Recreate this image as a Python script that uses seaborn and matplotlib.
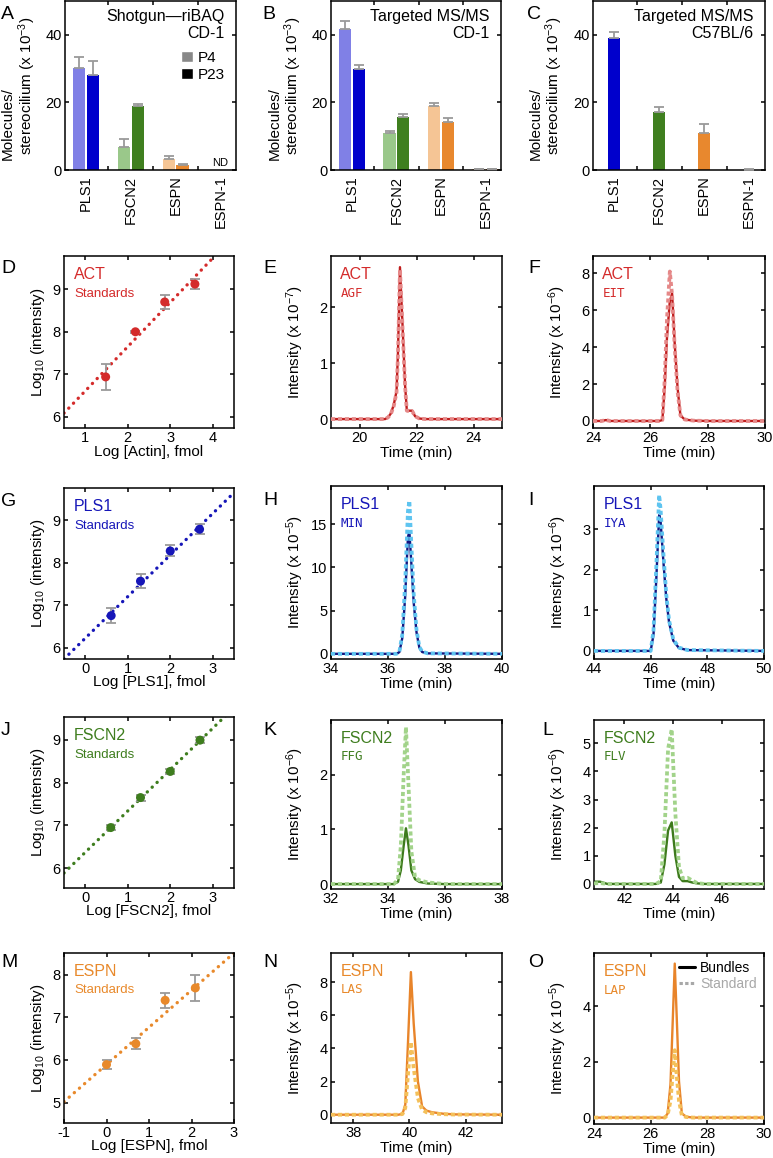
import numpy as np
import pandas as pd
import matplotlib
matplotlib.use("Agg")
import matplotlib.pyplot as plt
import seaborn as sns
from matplotlib.patches import Patch
from matplotlib.lines import Line2D
from matplotlib.ticker import FixedLocator

# ------------------------------------------------------------------ data
proteins = ["PLS1", "FSCN2", "ESPN", "ESPN-1"]
ages = ["P4", "P23"]

# Panel A: shotgun riBAQ, CD-1 (molecules/stereocilium x 1e-3)
a_p4 = [30.3, 6.9, 3.4, 0.0]
a_p4_err = [3.2, 2.2, 0.8, 0.0]
a_p23 = [28.2, 18.9, 1.4, 0.0]
a_p23_err = [4.1, 0.7, 0.4, 0.0]
# Panel B: targeted MS/MS, CD-1
b_p4 = [41.6, 10.8, 18.9, 0.15]
b_p4_err = [2.5, 0.7, 1.0, 0.1]
b_p23 = [30.0, 15.8, 14.3, 0.15]
b_p23_err = [1.2, 0.9, 1.1, 0.1]
# Panel C: targeted MS/MS, C57BL/6
c_p23 = [39.1, 17.1, 10.8, 0.1]
c_p23_err = [1.8, 1.5, 2.7, 0.1]

# Standard curves (log amount, log10 intensity)
act_std_x = [1.48, 2.18, 2.87, 3.58]
act_std_y = [6.94, 8.00, 8.70, 9.12]
act_std_err = [0.30, 0.03, 0.16, 0.12]
act_fit_x = [0.5, 4.0]
act_fit_y = [6.09, 9.73]

pls1_std_x = [0.61, 1.30, 2.00, 2.69]
pls1_std_y = [6.76, 7.57, 8.28, 8.79]
pls1_std_err = [0.17, 0.16, 0.13, 0.12]
pls1_fit_x = [-0.5, 3.5]
pls1_fit_y = [5.74, 9.65]

fscn2_std_x = [0.60, 1.30, 2.00, 2.70]
fscn2_std_y = [6.95, 7.65, 8.26, 8.99]
fscn2_std_err = [0.05, 0.07, 0.06, 0.07]
fscn2_fit_x = [-0.5, 3.5]
fscn2_fit_y = [5.89, 9.75]

espn_std_x = [0.00, 0.69, 1.38, 2.09]
espn_std_y = [5.89, 6.38, 7.40, 7.69]
espn_std_err = [0.11, 0.13, 0.18, 0.30]
espn_fit_x = [-1.0, 3.0]
espn_fit_y = [5.02, 8.51]

# Chromatograms: time (min), bundles, standard (scaled intensities)
e_t = [19.0, 20.9, 21.0, 21.1, 21.2, 21.3, 21.35, 21.42, 21.5, 21.6, 21.66, 21.75, 21.85, 21.95, 22.1, 22.3, 25.0]
e_bund = [0, 0, 0.03, 0.10, 0.25, 0.50, 1.20, 2.72, 1.80, 0.60, 0.16, 0.15, 0.15, 0.05, 0.01, 0, 0]
e_std = [0, 0, 0.03, 0.09, 0.23, 0.48, 1.15, 2.68, 1.75, 0.58, 0.15, 0.14, 0.14, 0.05, 0.01, 0, 0]

f_t = [24.0, 24.3, 24.45, 24.6, 26.3, 26.42, 26.5, 26.58, 26.68, 26.76, 26.85, 26.95, 27.05, 27.2, 27.5, 28.0, 30.0]
f_bund = [0, 0, 0.05, 0, 0, 0.05, 1.8, 4.5, 6.5, 6.9, 4.2, 1.8, 0.3, 0.08, 0.02, 0, 0]
f_std = [0, 0, 0.05, 0, 0, 0.05, 2.2, 5.5, 8.1, 6.8, 4.0, 1.6, 0.3, 0.08, 0.02, 0, 0]

h_t = [34.0, 36.3, 36.4, 36.5, 36.6, 36.7, 36.75, 36.8, 36.9, 37.0, 37.1, 37.2, 37.4, 40.0]
h_bund = [0, 0, 0.2, 1.8, 6.5, 13.5, 14.1, 11.5, 6.0, 2.5, 0.7, 0.2, 0.05, 0]
h_std = [0, 0, 0.25, 2.2, 8.0, 16.5, 17.7, 14.0, 7.0, 2.8, 0.8, 0.25, 0.05, 0]

i_t = [44.0, 46.0, 46.1, 46.2, 46.3, 46.35, 46.45, 46.55, 46.65, 46.8, 47.0, 47.3, 50.0]
i_bund = [0, 0, 0.4, 1.8, 3.35, 3.2, 2.2, 1.3, 0.7, 0.25, 0.07, 0.02, 0]
i_std = [0, 0, 0.5, 2.1, 3.85, 3.5, 2.4, 1.4, 0.75, 0.28, 0.08, 0.02, 0]

k_t = [32.0, 34.2, 34.35, 34.45, 34.55, 34.63, 34.72, 34.82, 34.95, 35.1, 35.4, 36.0, 38.0]
k_bund = [0, 0, 0.04, 0.25, 0.70, 1.02, 0.70, 0.25, 0.09, 0.04, 0.01, 0, 0]
k_std = [0, 0, 0.08, 0.70, 2.00, 2.87, 1.80, 0.60, 0.12, 0.07, 0.03, 0, 0]

l_t = [40.75, 41.0, 41.3, 43.3, 43.5, 43.65, 43.8, 43.95, 44.1, 44.25, 44.4, 44.6, 44.8, 45.0, 45.3, 47.75]
l_bund = [0.08, 0.08, 0.0, 0, 0.05, 0.7, 1.9, 2.19, 1.0, 0.25, 0.1, 0.1, 0.05, 0.02, 0, 0]
l_std = [0.02, 0.03, 0.0, 0, 0.1, 1.8, 4.8, 5.5, 2.5, 0.6, 0.2, 0.22, 0.12, 0.03, 0, 0]

n_t = [37.2, 39.6, 39.75, 39.85, 39.95, 40.05, 40.15, 40.3, 40.45, 40.6, 40.8, 41.2, 41.6, 43.3]
n_bund = [0, 0, 0.05, 0.6, 4.5, 8.6, 5.5, 2.0, 0.5, 0.25, 0.15, 0.06, 0.02, 0]
n_std = [0, 0, 0.04, 0.4, 2.5, 4.38, 2.8, 1.0, 0.3, 0.15, 0.08, 0.03, 0.01, 0]

o_t = [24.0, 26.5, 26.6, 26.7, 26.78, 26.85, 26.92, 27.0, 27.1, 27.25, 27.5, 30.0]
o_bund = [0, 0, 0.15, 1.2, 3.5, 5.53, 3.6, 1.3, 0.15, 0.03, 0, 0]
o_std = [0, 0, 0.1, 0.6, 1.6, 2.42, 1.5, 0.6, 0.08, 0.02, 0, 0]

# ------------------------------------------------------------------ colours
bar_cols = {
    "P4": ["#8080E6", "#9AC88A", "#F5C595", "#F5C595"],
    "P23": ["#0000CC", "#3F7F1F", "#E8882E", "#E8882E"],
}
ERR_C = "#9a9a9a"
ACT_C, ACT_B, ACT_S = "#D42B2B", "#C01C1C", "#E58888"
PLS_C, PLS_B, PLS_S = "#1616B8", "#14147E", "#5EC4F0"
FSC_C, FSC_B, FSC_S = "#3E7D1E", "#3D7A1C", "#A2D38A"
ESP_C, ESP_B, ESP_S = "#E8892B", "#E8842A", "#F4C05A"

# ------------------------------------------------------------------ style
sns.set_theme(style="ticks")
plt.rcParams.update({
    "font.family": ["Liberation Sans", "DejaVu Sans"],
    "mathtext.fontset": "custom",
    "mathtext.rm": "Liberation Sans",
    "mathtext.it": "Liberation Sans:italic",
    "mathtext.bf": "Liberation Sans:bold",
    "axes.linewidth": 1.1,
    "axes.edgecolor": "black",
    "xtick.direction": "in", "ytick.direction": "in",
    "xtick.top": True, "ytick.right": True,
    "xtick.major.size": 3.2, "ytick.major.size": 3.2,
    "xtick.minor.size": 3.2,
    "xtick.major.width": 1.1, "ytick.major.width": 1.1, "xtick.minor.width": 1.1,
    "xtick.labelsize": 10.5, "ytick.labelsize": 10.5,
    "axes.labelsize": 11,
    "xtick.major.pad": 2.5, "ytick.major.pad": 2.5,
    "axes.unicode_minus": False,
    "xtick.color": "black", "ytick.color": "black",
    "text.color": "black", "axes.labelcolor": "black",
})

FW, FH = 773, 1158
fig = plt.figure(figsize=(FW / 100, FH / 100), dpi=100)


def add_ax(l, t, r, b):
    return fig.add_axes([l / FW, 1 - b / FH, (r - l) / FW, (b - t) / FH])


def frame(ax):
    for s in ax.spines.values():
        s.set_visible(True)
        s.set_linewidth(1.1)
        s.set_color("black")
    ax.tick_params(which="both", direction="in", top=True, right=True,
                   labeltop=False, labelright=False)


def letter(ch, x, ybase):
    fig.text(x / FW, 1 - ybase / FH, ch, fontsize=14, va="baseline", ha="left")


# ------------------------------------------------------------------ bar panels
def bar_panel(ax, series, title1, title2):
    rows = []
    for age, (vals, errs) in series.items():
        for p, v, e in zip(proteins, vals, errs):
            rows.append({"protein": p, "age": age, "value": v, "err": e})
    df = pd.DataFrame(rows)
    hue_order = list(series.keys())
    if len(hue_order) == 2:
        sns.barplot(data=df, x="protein", y="value", hue="age", order=proteins,
                    hue_order=hue_order, palette=["#888888", "#000000"],
                    width=0.62, gap=0.12, errorbar=None, legend=False,
                    saturation=1, linewidth=0, ax=ax)
    else:
        sns.barplot(data=df, x="protein", y="value", order=proteins,
                    color="#000000", width=0.27, errorbar=None,
                    saturation=1, linewidth=0, ax=ax)
    for cont, age in zip(ax.containers, hue_order):
        sub = df[df["age"] == age].set_index("protein").loc[proteins]
        for bar, col, (v, e) in zip(cont, bar_cols[age], zip(sub["value"], sub["err"])):
            bar.set_facecolor(col)
            if v > 0:
                xc = bar.get_x() + bar.get_width() / 2
                ax.errorbar([xc], [v], yerr=[[0], [e]], fmt="none", ecolor=ERR_C,
                            elinewidth=1.3, capsize=3.3, capthick=1.3, zorder=3)
    frame(ax)
    ax.set_xlim(-0.47, 3.35)
    ax.set_ylim(0, 50)
    ax.set_yticks([0, 20, 40])
    ax.xaxis.set_minor_locator(FixedLocator([0.5, 1.5, 2.5]))
    ax.tick_params(axis="x", which="major", length=0, pad=4, labelrotation=90,
                   labelsize=10.5)
    ax.set_xlabel("")
    # two-line axis title: second line as the y label, first line as a rotated text
    ax.set_ylabel("stereocilium (x 10$^{-3}$)", fontsize=11)
    ax.yaxis.set_label_coords(-0.16, 0.5)
    ax.text(-0.31, 0.06, "Molecules/", transform=ax.transAxes, rotation=90,
            rotation_mode="anchor", ha="left", va="baseline", fontsize=11)
    ax.text(0.935, 0.88, title1, transform=ax.transAxes, ha="right",
            va="baseline", fontsize=11.5)
    ax.text(0.935, 0.78, title2, transform=ax.transAxes, ha="right",
            va="baseline", fontsize=11.5)


axA = add_ax(65, 1, 236, 170)
bar_panel(axA, {"P4": (a_p4, a_p4_err), "P23": (a_p23, a_p23_err)},
          "Shotgun\u2014riBAQ", "CD-1")
axA.text(3, 2.0, "ND", ha="center", va="center", fontsize=8)
axA.legend([Patch(facecolor="#888888"), Patch(facecolor="#000000")], ages,
           loc="upper left", bbox_to_anchor=(0.68, 0.705), frameon=False,
           handlelength=0.75, handleheight=0.75, handletextpad=0.35,
           labelspacing=0.2, borderpad=0, borderaxespad=0, fontsize=11)

axB = add_ax(331, 1, 501, 170)
bar_panel(axB, {"P4": (b_p4, b_p4_err), "P23": (b_p23, b_p23_err)},
          "Targeted MS/MS", "CD-1")

axC = add_ax(593, 1, 765, 170)
bar_panel(axC, {"P23": (c_p23, c_p23_err)}, "Targeted MS/MS", "C57BL/6")

letter("A", 1, 19)
letter("B", 262, 19)
letter("C", 527, 19)


# ------------------------------------------------------------------ standard curves
def std_panel(ax, x, y, err, fx, fy, color, name, xlabel, xlim, ylim, xticks, yticks):
    sns.lineplot(x=fx, y=fy, ax=ax, color=color, lw=2.4,
                 linestyle=(0, (0.05, 2.0)), dash_capstyle="round",
                 estimator=None, sort=False, zorder=1)
    ax.errorbar(x, y, yerr=err, fmt="none", ecolor=ERR_C, elinewidth=1.3,
                capsize=3.3, capthick=1.3, zorder=2)
    sns.scatterplot(x=x, y=y, ax=ax, color=color, s=42, edgecolor="none",
                    zorder=3, legend=False)
    frame(ax)
    ax.set_xlim(*xlim)
    ax.set_ylim(*ylim)
    ax.set_xticks(xticks)
    ax.set_yticks(yticks)
    ax.set_xlabel(xlabel, fontsize=11)
    ax.set_ylabel("Log$_{10}$ (intensity)", fontsize=11)
    ax.yaxis.set_label_coords(-0.10, 0.5)
    ax.xaxis.label.set_va("baseline")
    ax.xaxis.set_label_coords(0.5, -0.16)
    ax.text(0.06, 0.865, name, transform=ax.transAxes, color=color,
            fontsize=11.5, va="baseline", ha="left")
    ax.text(0.06, 0.762, "Standards", transform=ax.transAxes, color=color,
            fontsize=9.5, va="baseline", ha="left")


def chrom_panel(ax, t, bund, std, cb, cs, ctext, name, pep, xlim, ylim,
                xticks, yticks, exp):
    sns.lineplot(x=t, y=bund, ax=ax, color=cb, lw=1.7, estimator=None,
                 sort=False, zorder=2)
    sns.lineplot(x=t, y=std, ax=ax, color=cs, lw=2.7,
                 linestyle=(0, (1.1, 0.75)), estimator=None, sort=False,
                 zorder=3)
    frame(ax)
    ax.set_xlim(*xlim)
    ax.set_ylim(*ylim)
    ax.set_xticks(xticks)
    ax.set_yticks(yticks)
    ax.set_xlabel("Time (min)", fontsize=11)
    ax.set_ylabel("Intensity (x 10$^{-%d}$)" % exp, fontsize=11)
    ax.yaxis.set_label_coords(-0.145, 0.5)
    ax.xaxis.label.set_va("baseline")
    ax.xaxis.set_label_coords(0.5, -0.17)
    ax.text(0.055, 0.865, name, transform=ax.transAxes, color=ctext,
            fontsize=11.5, va="baseline", ha="left")
    ax.text(0.055, 0.762, pep, transform=ax.transAxes, color=ctext,
            fontsize=9, va="baseline", ha="left", family="DejaVu Sans Mono")


# Row D-F
axD = add_ax(64, 256, 234, 428)
std_panel(axD, act_std_x, act_std_y, act_std_err, act_fit_x, act_fit_y, ACT_C,
          "ACT", "Log [Actin], fmol", (0.5, 4.5), (5.74, 9.78), [1, 2, 3, 4],
          [6, 7, 8, 9])
axE = add_ax(331, 256, 502, 428)
chrom_panel(axE, e_t, e_bund, e_std, ACT_B, ACT_S, ACT_C, "ACT", "AGF",
            (19, 25), (-0.16, 2.92), [20, 22, 24], [0, 1, 2], 7)
axF = add_ax(593, 256, 765, 428)
chrom_panel(axF, f_t, f_bund, f_std, ACT_B, ACT_S, ACT_C, "ACT", "EIT",
            (24, 30), (-0.38, 8.94), [24, 26, 28, 30], [0, 2, 4, 6, 8], 6)
letter("D", 1, 273)
letter("E", 263, 273)
letter("F", 528, 273)

# Row G-I
axG = add_ax(64, 488, 234, 659)
std_panel(axG, pls1_std_x, pls1_std_y, pls1_std_err, pls1_fit_x, pls1_fit_y,
          PLS_C, "PLS1", "Log [PLS1], fmol", (-0.5, 3.5), (5.74, 9.76),
          [0, 1, 2, 3], [6, 7, 8, 9])
axH = add_ax(331, 486, 502, 659)
chrom_panel(axH, h_t, h_bund, h_std, PLS_B, PLS_S, PLS_C, "PLS1", "MIN",
            (34, 40), (-0.6, 19.4), [34, 36, 38, 40], [0, 5, 10, 15], 5)
axI = add_ax(594, 486, 764, 659)
chrom_panel(axI, i_t, i_bund, i_std, PLS_B, PLS_S, PLS_C, "PLS1", "IYA",
            (44, 50), (-0.2, 4.07), [44, 46, 48, 50], [0, 1, 2, 3], 6)
letter("G", 1, 506)
letter("H", 263, 505)
letter("I", 528, 505)

# Row J-L
axJ = add_ax(64, 717, 234, 888)
std_panel(axJ, fscn2_std_x, fscn2_std_y, fscn2_std_err, fscn2_fit_x, fscn2_fit_y,
          FSC_C, "FSCN2", "Log [FSCN2], fmol", (-0.5, 3.5), (5.54, 9.53),
          [0, 1, 2, 3], [6, 7, 8, 9])
axK = add_ax(331, 720, 502, 889)
chrom_panel(axK, k_t, k_bund, k_std, FSC_B, FSC_S, FSC_C, "FSCN2", "FFG",
            (32, 38), (-0.09, 3.0), [32, 34, 36, 38], [0, 1, 2], 6)
axL = add_ax(594, 720, 764, 889)
chrom_panel(axL, l_t, l_bund, l_std, FSC_B, FSC_S, FSC_C, "FSCN2", "FLV",
            (40.75, 47.75), (-0.18, 5.83), [42, 44, 46], [0, 1, 2, 3, 4, 5], 6)
letter("J", 1, 735)
letter("K", 263, 735)
letter("L", 542, 735)

# Row M-O
axM = add_ax(64, 953, 234, 1123)
std_panel(axM, espn_std_x, espn_std_y, espn_std_err, espn_fit_x, espn_fit_y,
          ESP_C, "ESPN", "Log [ESPN], fmol", (-1, 3), (4.52, 8.51),
          [-1, 0, 1, 2, 3], [5, 6, 7, 8])
axN = add_ax(331, 953, 502, 1123)
chrom_panel(axN, n_t, n_bund, n_std, ESP_B, ESP_S, ESP_C, "ESPN", "LAS",
            (37.2, 43.3), (-0.5, 9.75), [38, 40, 42], [0, 2, 4, 6, 8], 5)
axO = add_ax(594, 953, 764, 1124)
chrom_panel(axO, o_t, o_bund, o_std, ESP_B, ESP_S, ESP_C, "ESPN", "LAP",
            (24, 30), (-0.23, 5.91), [24, 26, 28, 30], [0, 2, 4], 5)
axO.legend([Line2D([], [], color="black", lw=2.2),
            Line2D([], [], color="#a8a8a8", lw=2.2, linestyle=(0, (1.1, 0.75)))],
           ["Bundles", "Standard"], loc="upper left", bbox_to_anchor=(0.5, 0.955),
           frameon=False, handlelength=1.15, handletextpad=0.35,
           labelspacing=0.15, borderpad=0, borderaxespad=0, fontsize=10,
           labelcolor=["black", "#a8a8a8"])
letter("M", 1, 967)
letter("N", 263, 967)
letter("O", 528, 967)

fig.savefig("out.png", dpi=100)
